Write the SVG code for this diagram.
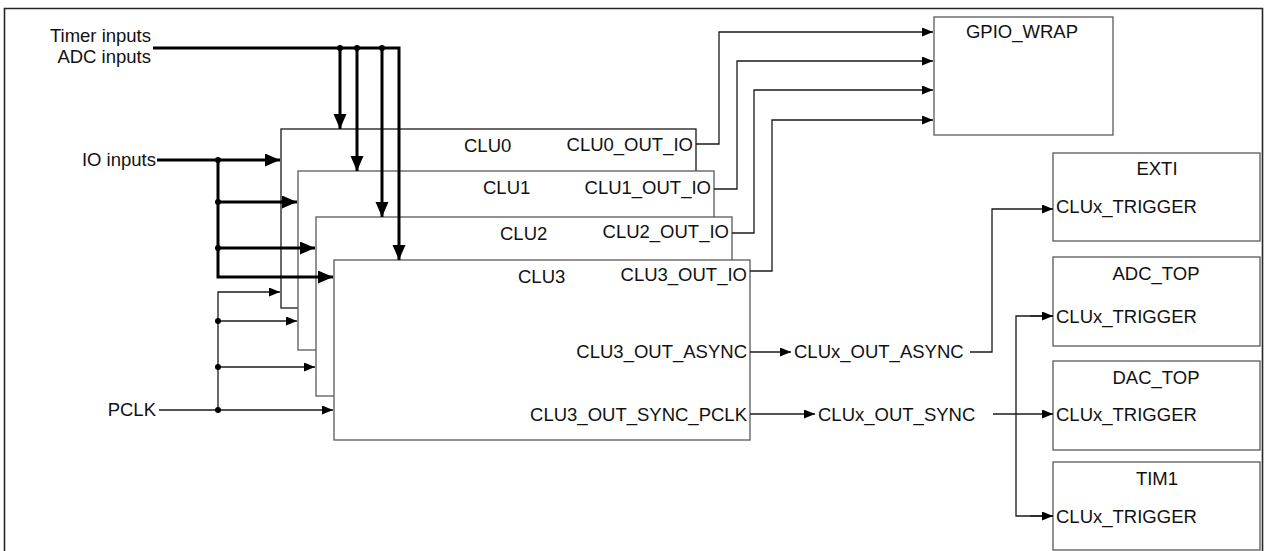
<svg xmlns="http://www.w3.org/2000/svg" width="1264" height="551" viewBox="0 0 1264 551">
<defs>
<style>
text{font-family:"Liberation Sans",Arial,sans-serif;font-size:18.5px;fill:#111}
.box{fill:#fff;stroke:#595959;stroke-width:1.3}
.box0{fill:#fff;stroke:#1a1a1a;stroke-width:1.3}
.thin{fill:none;stroke:#1a1a1a;stroke-width:1.3}
.thick{fill:none;stroke:#000;stroke-width:3}
.end{text-anchor:end}
.mid{text-anchor:middle}
.dot{fill:#000}
</style>
<marker id="ah" markerUnits="userSpaceOnUse" markerWidth="12" markerHeight="10" refX="11" refY="4.5" orient="auto">
<path d="M0,0 L11,4.5 L0,9 z" fill="#000"/>
</marker>
<marker id="ahb" markerUnits="userSpaceOnUse" markerWidth="16" markerHeight="14" refX="15" refY="6.5" orient="auto">
<path d="M0,0 L15,6.5 L0,13 z" fill="#000"/>
</marker>
</defs>
<rect width="1264" height="551" fill="#fff"/>
<g id="frame">
<path d="M4.5,560 V8.5 H1262.5 V560" fill="none" stroke="#262626" stroke-width="1.6"/>
</g>
<g id="inputs">
<text class="end" x="151" y="42">Timer inputs</text>
<text class="end" x="151" y="63">ADC inputs</text>
<text class="end" x="156" y="166">IO inputs</text>
<text class="end" x="156" y="416">PCLK</text>
</g>
<g id="clu0">
<rect class="box0" x="281" y="129" width="415" height="179"/>
<text x="464" y="152">CLU0</text>
<text class="end" x="693" y="151">CLU0_OUT_IO</text>
</g>
<g id="clu1">
<rect class="box" x="298" y="171" width="416" height="179"/>
<text x="483" y="194">CLU1</text>
<text class="end" x="711" y="194">CLU1_OUT_IO</text>
</g>
<g id="clu2">
<rect class="box" x="316" y="217" width="416" height="179"/>
<text x="500" y="240">CLU2</text>
<text class="end" x="729" y="238">CLU2_OUT_IO</text>
</g>
<g id="clu3">
<rect class="box" x="334" y="260" width="416" height="180"/>
<text x="518" y="283">CLU3</text>
<text class="end" x="747" y="281">CLU3_OUT_IO</text>
<text class="end" x="747" y="358">CLU3_OUT_ASYNC</text>
<text class="end" x="747" y="421">CLU3_OUT_SYNC_PCLK</text>
</g>
<g id="gpio_wrap">
<rect class="box" x="934" y="17" width="179" height="118"/>
<text class="mid" x="1022" y="38">GPIO_WRAP</text>
</g>
<g id="exti">
<rect class="box" x="1053" y="153" width="207" height="88"/>
<text class="mid" x="1157" y="175">EXTI</text>
<text x="1056" y="213">CLUx_TRIGGER</text>
</g>
<g id="adc_top">
<rect class="box" x="1053" y="257" width="207" height="89"/>
<text class="mid" x="1156" y="280">ADC_TOP</text>
<text x="1056" y="323">CLUx_TRIGGER</text>
</g>
<g id="dac_top">
<rect class="box" x="1053" y="361" width="207" height="89"/>
<text class="mid" x="1156" y="384">DAC_TOP</text>
<text x="1056" y="421">CLUx_TRIGGER</text>
</g>
<g id="tim1">
<rect class="box" x="1053" y="462" width="207" height="88"/>
<text class="mid" x="1157" y="485">TIM1</text>
<text x="1056" y="523">CLUx_TRIGGER</text>
</g>
<g id="signals">
<text x="794" y="358">CLUx_OUT_ASYNC</text>
<text x="818" y="421">CLUx_OUT_SYNC</text>
</g>
<g id="connectors">
<path class="thick" d="M153,48 H399 V260" marker-end="url(#ahb)"/>
<path class="thick" d="M340,48 V129" marker-end="url(#ahb)"/>
<path class="thick" d="M357,48 V171" marker-end="url(#ahb)"/>
<path class="thick" d="M382,48 V217" marker-end="url(#ahb)"/>
<circle class="dot" cx="340" cy="48" r="3"/>
<circle class="dot" cx="357" cy="48" r="3"/>
<circle class="dot" cx="382" cy="48" r="3"/>
<path class="thick" d="M157,160 H280" marker-end="url(#ahb)"/>
<path class="thick" d="M218,160 V277 H333" marker-end="url(#ahb)"/>
<path class="thick" d="M218,202 H297" marker-end="url(#ahb)"/>
<path class="thick" d="M218,248 H315" marker-end="url(#ahb)"/>
<circle class="dot" cx="218" cy="160" r="3"/>
<circle class="dot" cx="218" cy="202" r="3"/>
<circle class="dot" cx="218" cy="248" r="3"/>
<path class="thin" d="M159,410 H333" marker-end="url(#ah)"/>
<path class="thin" d="M218,410 V292 H280" marker-end="url(#ah)"/>
<path class="thin" d="M218,321 H297" marker-end="url(#ah)"/>
<path class="thin" d="M218,367 H315" marker-end="url(#ah)"/>
<circle class="dot" cx="218" cy="410" r="3"/>
<circle class="dot" cx="218" cy="321" r="3"/>
<circle class="dot" cx="218" cy="367" r="3"/>
<path class="thin" d="M696,144 H719 V32 H933" marker-end="url(#ah)"/>
<path class="thin" d="M714,189 H737 V61 H933" marker-end="url(#ah)"/>
<path class="thin" d="M732,233 H754 V90 H933" marker-end="url(#ah)"/>
<path class="thin" d="M750,271 H772 V120 H933" marker-end="url(#ah)"/>
<path class="thin" d="M750,352 H791" marker-end="url(#ah)"/>
<path class="thin" d="M750,414 H815" marker-end="url(#ah)"/>
<path class="thin" d="M970,352 H992 V209 H1053" marker-end="url(#ah)"/>
<path class="thin" d="M993,414 H1053" marker-end="url(#ah)"/>
<path class="thin" d="M1053,316 H1016 V516 H1053"/>
<path class="thin" d="M1030,316 H1053" marker-end="url(#ah)"/>
<path class="thin" d="M1030,516 H1053" marker-end="url(#ah)"/>
</g>
</svg>
